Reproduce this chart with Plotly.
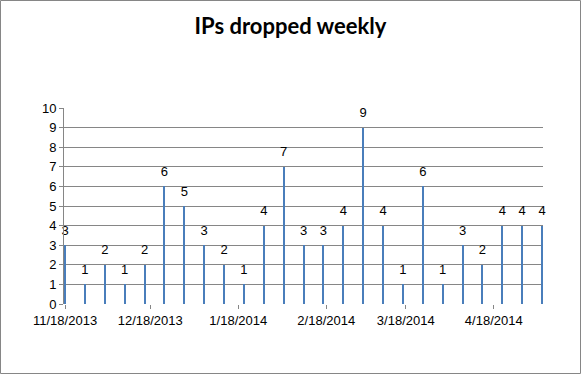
import plotly.graph_objects as go
import pandas as pd

start_date = "2013-11-18"
weeks = pd.date_range(start_date, periods=25, freq="7D")
values = [3, 1, 2, 1, 2, 6, 5, 3, 2, 1, 4, 7, 3, 3, 4, 9, 4, 1, 6, 1, 3, 2, 4, 4, 4]
tick_dates = ["2013-11-18", "2013-12-18", "2014-01-18", "2014-02-18", "2014-03-18", "2014-04-18"]
tick_labels = ["11/18/2013", "12/18/2013", "1/18/2014", "2/18/2014", "3/18/2014", "4/18/2014"]

W, H = 581, 374
L, R, T, B = 64, 38, 108, 70
pw, ph = W - L - R, H - T - B

fig = go.Figure()
fig.add_trace(go.Bar(
    x=weeks, y=values,
    width=0.35 * 86400000,
    marker=dict(color="#4a7ebb", line=dict(width=0)),
    hoverinfo="x+y",
))
fig.add_trace(go.Scatter(
    x=weeks, y=values, mode="markers+text",
    marker=dict(size=10, opacity=0, color="#4a7ebb"),
    text=[str(v) for v in values], textposition="top center",
    textfont=dict(size=13, color="#000000", family="Liberation Sans, Arial"),
    cliponaxis=False, hoverinfo="skip",
))

fig.update_layout(
    template="none",
    width=W, height=H,
    margin=dict(l=L, r=R, t=T, b=B, autoexpand=False),
    paper_bgcolor="white", plot_bgcolor="white",
    showlegend=False,
    title=dict(text="<b>IPs dropped weekly</b>", x=0.5, xanchor="center", y=1 - 26 / H, yanchor="middle",
               font=dict(size=22, color="#000000", family="Lato, Open Sans, sans-serif")),
    font=dict(family="Liberation Sans, Arial", size=13, color="#000000"),
    bargap=0,
    xaxis=dict(
        type="date", automargin=False,
        range=["2013-11-17 15:00", "2014-05-05 08:00"],
        tickvals=tick_dates, ticktext=tick_labels,
        showgrid=False, showline=False,
        ticks="outside", ticklen=4, tickcolor="#868686",
        tickfont=dict(size=13), zeroline=False,
    ),
    yaxis=dict(
        automargin=False,
        range=[0, 10], dtick=1, tick0=0,
        showgrid=True, gridcolor="#868686", gridwidth=1,
        showline=True, linecolor="#868686", linewidth=1,
        ticks="outside", ticklen=4, tickcolor="#868686",
        tickfont=dict(size=13), zeroline=False,
    ),
    shapes=[dict(
        type="rect", xref="paper", yref="paper",
        x0=(0.5 - L) / pw, x1=(W - 0.5 - L) / pw,
        y0=-(H - 0.5 - (H - B)) / ph, y1=(H - B - 0.5) / ph,
        line=dict(color="#868686", width=1), layer="below",
    )],
)

fig.write_html("out.html", config={"displayModeBar": False},
               post_script="document.body.style.margin='0';document.body.style.overflow='hidden';")
